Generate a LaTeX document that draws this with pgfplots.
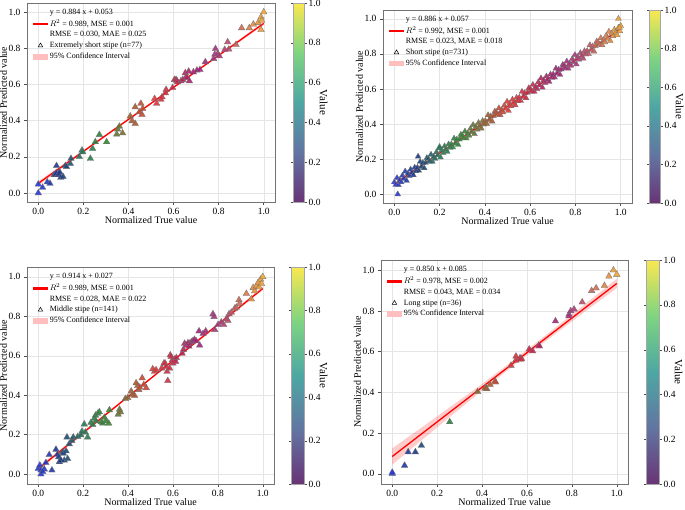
\documentclass[border=0pt]{standalone}
\usepackage{fontspec}
\setmainfont{Liberation Serif}
\usepackage{pgfplots}
\pgfplotsset{compat=1.18}
\pgfplotsset{
  colormap={vir}{rgb255=(105,52,118) rgb255=(98,117,162) rgb255=(77,167,163) rgb255=(126,212,129) rgb255=(250,232,80)},
  colormap={pts}{rgb255=(40,55,215) rgb255=(25,55,135) rgb255=(35,120,85) rgb255=(45,135,45) rgb255=(150,100,45) rgb255=(232,55,50) rgb255=(205,35,70) rgb255=(160,30,120) rgb255=(170,50,125) rgb255=(210,105,80) rgb255=(240,165,50)},
  numfmt/.style={/pgf/number format/fixed, /pgf/number format/fixed zerofill, /pgf/number format/precision=1, /pgf/number format/assume math mode=true},
  panel/.style={
    scale only axis, anchor=south west,
    xmin=-0.05, xmax=1.05, ymin=-0.05, ymax=1.05,
    xtick={0,0.2,0.4,0.6,0.8,1}, ytick={0,0.2,0.4,0.6,0.8,1},
    ticklabel style={/tikz/font=\fontsize{9.5}{10}\selectfont},
    xticklabel style={numfmt}, yticklabel style={numfmt},
    tick pos=left, tick align=outside, major tick length=3pt,
    tick style={black!70, line width=0.5pt},
    axis line style={black!55, line width=0.6pt},
    grid=major, grid style={black!10, line width=0.4pt},
    label style={font=\fontsize{11}{12}\selectfont},
    xlabel={Normalized True value}, ylabel={Normalized Predicted value},
    every axis x label/.style={at={(axis description cs:0.5,0)}, yshift=-18pt, anchor=center},
    every axis y label/.style={at={(axis description cs:-0.095,0.5)}, rotate=90, anchor=center},
    point meta min=0, point meta max=1,
    colormap name=pts,
    legend cell align=left,
    legend style={at={(axis description cs:0.02,0.985)}, anchor=north west, draw=none, fill=none,
      font=\fontsize{8}{9}\selectfont, row sep=-0.3pt, inner sep=1pt},
    colorbar,
  },
  cbar/.style={colorbar style={
    colormap name=vir,
    at={(parent axis.north east)}, anchor=north west, xshift=#1,
    ytick={0,0.2,0.4,0.6,0.8,1},
    yticklabel style={/tikz/font=\fontsize{9.5}{10}\selectfont, numfmt, inner sep=1.5pt},
    ylabel={Value},
    every axis y label/.style={at={(axis description cs:1,0.5)}, xshift=19pt, rotate=-90, anchor=center, font=\fontsize{11}{12}\selectfont},
    axis line style={black!35}, tick style={black!70}, major tick length=2.5pt, tick align=outside,
  }},
  pts/.style={scatter, only marks, forget plot, point meta=x,
    mark=triangle*, mark size=#1,
    scatter/use mapped color={draw=black!55, fill=mapped color},
    mark options={line width=0.3pt, fill opacity=0.9}},
  regline/.style={color=red, line width=1.3pt, forget plot},
  band/.style={fill=red, fill opacity=0.2, draw=none, forget plot},
  leglines/.style={legend image code/.code={\fill[red] (0cm,-0.65pt) rectangle (0.5cm,0.65pt);}},
  legarea/.style={legend image code/.code={\fill[red!25] (0cm,-0.08cm) rectangle (0.5cm,0.08cm);}},
  legtri/.style={legend image code/.code={\draw[black, line width=0.5pt] plot[mark=triangle, mark size=2.6pt] coordinates {(0.25cm,0cm)};}},
  legempty/.style={legend image code/.code={}},
}
\begin{document}
\begin{tikzpicture}
\path[use as bounding box] (0pt,0pt) rectangle (685pt,509pt);

% ---------- Top left ----------
\begin{axis}[panel, at={(27pt,307pt)}, width=248pt, height=199pt, cbar=10pt, colorbar style={width=11pt}]
\addlegendimage{legempty}\addlegendentry{y = 0.884 x + 0.053}
\addlegendimage{leglines}\addlegendentry{$R^2$ = 0.989, MSE = 0.001}
\addlegendimage{legempty}\addlegendentry{RMSE = 0.030, MAE = 0.025}
\addlegendimage{legtri}\addlegendentry{Extremely short stipe (n=77)}
\addlegendimage{legarea}\addlegendentry{95\% Confidence Interval}
\addplot[band] coordinates {(0,0.041) (0.25,0.268) (0.5,0.490) (0.75,0.712) (1,0.927) (1,0.947) (0.75,0.722) (0.5,0.500) (0.25,0.280) (0,0.065)} -- cycle;
\addplot[pts=3.8pt] coordinates {
(0,0) (0,0.048) (0.019,0.03) (0.04,0.06) (0.052,0.052) (0.07,0.10) (0.075,0.10) (0.081,0.15) (0.086,0.10) (0.08,0.11) (0.09,0.105) (0.095,0.115) (0.10,0.085) (0.11,0.09) (0.12,0.15) (0.125,0.145) (0.142,0.162) (0.145,0.19) (0.182,0.20) (0.194,0.236) (0.197,0.226) (0.231,0.19) (0.241,0.245) (0.253,0.282) (0.271,0.322) (0.303,0.282) (0.348,0.324) (0.352,0.352) (0.36,0.368) (0.374,0.331) (0.408,0.424) (0.416,0.398) (0.43,0.475) (0.43,0.383) (0.455,0.494) (0.46,0.433) (0.463,0.466) (0.448,0.447) (0.516,0.521) (0.525,0.494) (0.544,0.517) (0.549,0.53) (0.567,0.571) (0.564,0.552) (0.596,0.582) (0.604,0.626) (0.611,0.626) (0.615,0.62) (0.618,0.613) (0.633,0.619) (0.641,0.626) (0.652,0.663) (0.655,0.64) (0.66,0.637) (0.667,0.672) (0.67,0.619) (0.688,0.668) (0.704,0.678) (0.717,0.681) (0.741,0.724) (0.778,0.742) (0.786,0.797) (0.783,0.766) (0.796,0.77) (0.803,0.757) (0.84,0.834) (0.845,0.794) (0.827,0.792) (0.877,0.82) (0.902,0.912) (0.936,0.912) (0.954,0.932) (0.975,0.941) (0.988,0.972) (0.988,0.902) (0.991,0.954) (1.0,1.0)
};
\addplot[regline] coordinates {(0,0.053) (1,0.937)};
\end{axis}

% ---------- Top right ----------
\begin{axis}[panel, at={(383pt,306pt)}, width=249pt, height=193pt, cbar=9pt, colorbar style={width=11pt}]
\addlegendimage{legempty}\addlegendentry{y = 0.886 x + 0.057}
\addlegendimage{leglines}\addlegendentry{$R^2$ = 0.992, MSE = 0.001}
\addlegendimage{legempty}\addlegendentry{RMSE = 0.023, MAE = 0.018}
\addlegendimage{legtri}\addlegendentry{Short stipe (n=731)}
\addlegendimage{legarea}\addlegendentry{95\% Confidence Interval}
\addplot[band] coordinates {(0,0.053) (0.5,0.498) (1,0.939) (1,0.947) (0.5,0.502) (0,0.061)} -- cycle;
\addplot[pts=3.4pt] coordinates {
(0.000,0.069) (0.006,0.054) (0.012,0.093) (0.018,0.053) (0.024,0.081) (0.030,0.069) (0.036,0.107) (0.042,0.089) (0.048,0.130) (0.054,0.077)
(0.060,0.118) (0.066,0.104) (0.072,0.141) (0.078,0.123) (0.084,0.109) (0.090,0.152) (0.096,0.132) (0.102,0.152) (0.108,0.135) (0.114,0.185)
(0.120,0.157) (0.126,0.179) (0.132,0.149) (0.138,0.180) (0.144,0.207) (0.150,0.202) (0.156,0.187) (0.162,0.226) (0.168,0.186) (0.174,0.214)
(0.180,0.202) (0.186,0.240) (0.192,0.222) (0.198,0.262) (0.204,0.210) (0.210,0.251) (0.216,0.236) (0.222,0.274) (0.228,0.256) (0.234,0.242)
(0.240,0.285) (0.246,0.265) (0.252,0.285) (0.258,0.268) (0.264,0.318) (0.270,0.290) (0.276,0.312) (0.282,0.282) (0.288,0.313) (0.294,0.340)
(0.300,0.335) (0.306,0.320) (0.312,0.358) (0.318,0.319) (0.324,0.347) (0.330,0.334) (0.336,0.373) (0.342,0.355) (0.348,0.395) (0.354,0.343)
(0.360,0.384) (0.366,0.369) (0.372,0.407) (0.378,0.389) (0.384,0.375) (0.390,0.418) (0.396,0.398) (0.402,0.418) (0.408,0.401) (0.414,0.451)
(0.420,0.423) (0.426,0.444) (0.432,0.415) (0.438,0.446) (0.444,0.472) (0.450,0.468) (0.456,0.453) (0.462,0.491) (0.468,0.452) (0.474,0.480)
(0.480,0.467) (0.486,0.506) (0.492,0.488) (0.498,0.528) (0.504,0.476) (0.510,0.517) (0.516,0.502) (0.522,0.540) (0.528,0.522) (0.534,0.508)
(0.540,0.550) (0.546,0.531) (0.552,0.551) (0.558,0.533) (0.564,0.584) (0.570,0.556) (0.576,0.577) (0.582,0.548) (0.588,0.579) (0.594,0.605)
(0.600,0.601) (0.606,0.586) (0.612,0.624) (0.618,0.585) (0.624,0.613) (0.630,0.600) (0.636,0.639) (0.642,0.621) (0.648,0.661) (0.654,0.608)
(0.660,0.650) (0.666,0.635) (0.672,0.672) (0.678,0.655) (0.684,0.641) (0.690,0.683) (0.696,0.664) (0.702,0.684) (0.708,0.666) (0.714,0.717)
(0.720,0.689) (0.726,0.710) (0.732,0.681) (0.738,0.712) (0.744,0.738) (0.750,0.734) (0.756,0.719) (0.762,0.757) (0.768,0.717) (0.774,0.746)
(0.780,0.733) (0.786,0.771) (0.792,0.754) (0.798,0.794) (0.804,0.741) (0.810,0.783) (0.816,0.768) (0.822,0.805) (0.828,0.788) (0.834,0.774)
(0.840,0.816) (0.846,0.797) (0.852,0.817) (0.858,0.799) (0.864,0.850) (0.870,0.822) (0.876,0.843) (0.882,0.814) (0.888,0.845) (0.894,0.871)
(0.900,0.866) (0.906,0.852) (0.912,0.890) (0.918,0.850) (0.924,0.879) (0.930,0.866) (0.936,0.904) (0.942,0.887) (0.948,0.927) (0.954,0.874)
(0.960,0.916) (0.966,0.901) (0.972,0.938) (0.978,0.921) (0.984,0.907) (0.990,0.949) (0.996,0.930)
(0.015,0.000) (0.105,0.215) (0.200,0.270) (0.990,1.000) (1.000,0.960) (0.995,0.950)
};
\addplot[regline] coordinates {(0,0.057) (1,0.943)};
\end{axis}

% ---------- Bottom left ----------
\begin{axis}[panel, at={(27pt,25pt)}, width=247pt, height=217pt, cbar=9pt, colorbar style={width=13pt}]
\addlegendimage{legempty}\addlegendentry{y = 0.914 x + 0.027}
\addlegendimage{leglines}\addlegendentry{$R^2$ = 0.989, MSE = 0.001}
\addlegendimage{legempty}\addlegendentry{RMSE = 0.028, MAE = 0.022}
\addlegendimage{legtri}\addlegendentry{Middle stipe (n=141)}
\addlegendimage{legarea}\addlegendentry{95\% Confidence Interval}
\addplot[band] coordinates {(0,0.017) (0.5,0.480) (1,0.932) (1,0.950) (0.5,0.488) (0,0.037)} -- cycle;
\addplot[pts=3.8pt] coordinates {
(0,0.028) (0.007,0.045) (0.012,0.02) (0.012,0) (0.027,0.025) (0.02,0.012) (0.061,0.02) (0.049,0.098) (0.034,0.058)
(0.079,0.125) (0.086,0.10) (0.091,0.087) (0.094,0.062) (0.101,0.07) (0.109,0.112) (0.112,0.105) (0.116,0.07) (0.124,0.117) (0.131,0.078)
(0.128,0.187) (0.138,0.153) (0.15,0.17) (0.156,0.187) (0.176,0.19) (0.19,0.198) (0.195,0.217) (0.205,0.253) (0.21,0.212) (0.22,0.187)
(0.235,0.262) (0.243,0.25) (0.25,0.282) (0.255,0.298) (0.257,0.27) (0.265,0.307) (0.272,0.315) (0.28,0.265) (0.287,0.258) (0.295,0.287)
(0.302,0.27) (0.314,0.257) (0.317,0.325) (0.356,0.303) (0.362,0.328) (0.366,0.315) (0.388,0.382) (0.399,0.387) (0.414,0.42) (0.421,0.403)
(0.429,0.398) (0.436,0.462) (0.443,0.448) (0.448,0.428) (0.452,0.44) (0.463,0.487) (0.47,0.453) (0.481,0.437) (0.51,0.533) (0.518,0.52)
(0.525,0.528) (0.55,0.537) (0.56,0.562) (0.565,0.562) (0.57,0.545) (0.574,0.52) (0.577,0.473) (0.585,0.537) (0.588,0.603) (0.592,0.595)
(0.597,0.578) (0.6,0.562) (0.607,0.582) (0.612,0.57) (0.615,0.59) (0.641,0.612) (0.647,0.632) (0.652,0.662) (0.659,0.653) (0.667,0.665)
(0.671,0.648) (0.674,0.662) (0.682,0.67) (0.689,0.675) (0.696,0.682) (0.703,0.675) (0.716,0.725) (0.719,0.653) (0.734,0.712) (0.746,0.725)
(0.778,0.812) (0.783,0.798) (0.786,0.732) (0.801,0.758) (0.815,0.77) (0.826,0.757) (0.838,0.787) (0.845,0.778) (0.85,0.812) (0.86,0.82)
(0.875,0.84) (0.882,0.845) (0.894,0.883) (0.897,0.865) (0.927,0.915) (0.949,0.887) (0.957,0.945) (0.964,0.928) (0.972,0.953) (0.979,0.97)
(0.984,0.948) (0.99,0.987) (0.994,0.965) (1.0,1.0)
};
\addplot[regline] coordinates {(0,0.027) (1,0.941)};
\end{axis}

% ---------- Bottom right ----------
\begin{axis}[panel, at={(381pt,25pt)}, width=247pt, height=224pt, cbar=10pt, colorbar style={width=13pt}]
\addlegendimage{legempty}\addlegendentry{y = 0.850 x + 0.085}
\addlegendimage{leglines}\addlegendentry{$R^2$ = 0.978, MSE = 0.002}
\addlegendimage{legempty}\addlegendentry{RMSE = 0.043, MAE = 0.034}
\addlegendimage{legtri}\addlegendentry{Long stipe (n=36)}
\addlegendimage{legarea}\addlegendentry{95\% Confidence Interval}
\addplot[band] coordinates {(0,0.045) (0.2,0.228) (0.4,0.409) (0.55,0.540) (0.7,0.665) (0.85,0.790) (1,0.912) (1,0.958) (0.85,0.826) (0.7,0.695) (0.55,0.566) (0.4,0.441) (0.2,0.282) (0,0.125)} -- cycle;
\addplot[pts=3.8pt] coordinates {
(0,0) (0,0.007) (0.055,0.041) (0.071,0.107) (0.103,0.107) (0.13,0.139) (0.256,0.255) (0.38,0.403) (0.414,0.42) (0.421,0.417)
(0.436,0.438) (0.458,0.455) (0.46,0.45) (0.529,0.532) (0.551,0.577) (0.55,0.557) (0.569,0.569) (0.576,0.565) (0.61,0.612) (0.625,0.603)
(0.653,0.631) (0.655,0.627) (0.727,0.75) (0.787,0.783) (0.787,0.775) (0.795,0.8) (0.81,0.808) (0.846,0.843) (0.888,0.899) (0.908,0.912)
(0.945,0.924) (0.965,0.97) (0.985,1.0) (1.0,0.979) (0.572,0.562) (0.415,0.422)
};
\addplot[regline] coordinates {(0,0.085) (1,0.935)};
\end{axis}
\end{tikzpicture}
\end{document}
